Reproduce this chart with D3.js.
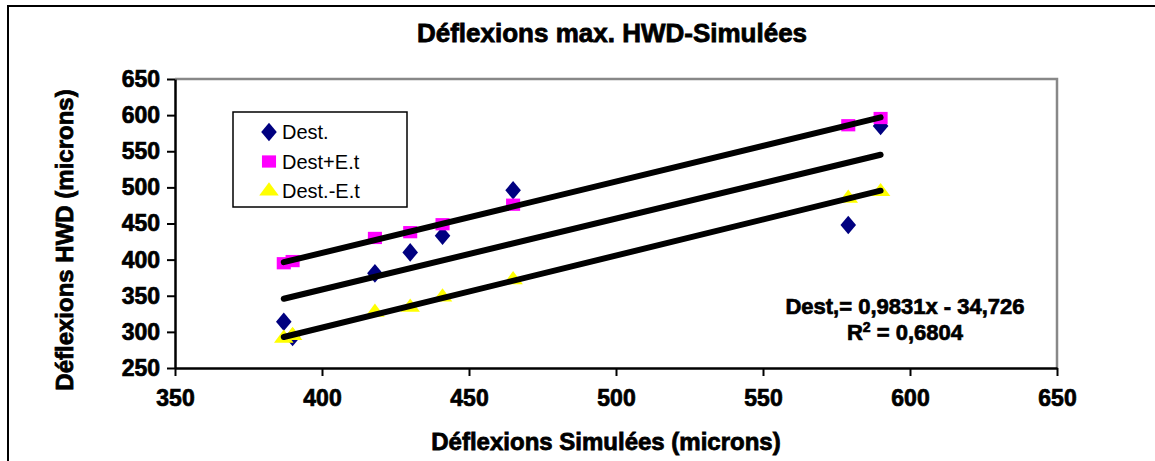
<!DOCTYPE html>
<html>
<head>
<meta charset="utf-8">
<script src="https://cdn.jsdelivr.net/npm/d3@7"></script>
<style>
  body { margin: 0; background: #fff; }
  text { font-family: "Liberation Sans", Arial, sans-serif; }
</style>
</head>
<body>
<script>
	// data
	var xVals = [387, 390, 418, 430, 441, 465, 579, 590];
	var destVals = [314, 293, 381, 410, 433, 496, 448, 585];
	var destPlusVals = [395, 398, 430, 438, 449, 476, 586, 596];
	var destMinusVals = [291, 295, 327, 334, 348, 372, 485, 494];
	var seriesNames = ["Dest.", "Dest+E.t", "Dest.-E.t"];
	var seriesColors = ["#000080", "#ff00ff", "#ffff00"];
	var xTicks = [350, 400, 450, 500, 550, 600, 650];
	var yTicks = [250, 300, 350, 400, 450, 500, 550, 600, 650];

	var svg_w = 1155;
	var svg_h = 461;
	var svg = d3.select("body").append("svg")
	.attr("width", svg_w)
	.attr("height", svg_h);

	// outer frame (only left + top visible)
	svg.append("rect")
	.attr("x", 8).attr("y", 6)
	.attr("width", 1300).attr("height", 600)
	.attr("fill", "none").attr("stroke", "#000").attr("stroke-width", 2);

	var x = d3.scaleLinear().domain([350, 650]).range([175, 1057]);
	var y = d3.scaleLinear().domain([250, 650]).range([368, 79]);

	// plot area border (grey top/right)
	svg.append("path")
	.attr("d", "M" + x(350) + "," + y(650) + "H" + x(650) + "V" + y(250))
	.attr("fill", "none").attr("stroke", "#888").attr("stroke-width", 2.5);

	// axes
	var xAxis = svg.append("g")
	.attr("transform", "translate(0," + y(250) + ")")
	.call(d3.axisBottom(x).tickValues(xTicks).tickSize(8).tickSizeOuter(0));
	var yAxis = svg.append("g")
	.attr("transform", "translate(" + x(350) + ",0)")
	.call(d3.axisLeft(y).tickValues(yTicks).tickSize(8).tickSizeOuter(0));

	[xAxis, yAxis].forEach(function(a) {
		a.select(".domain").attr("stroke", "#000").attr("stroke-width", 2.5);
		a.selectAll(".tick line").attr("stroke", "#000").attr("stroke-width", 2);
		a.selectAll(".tick text")
		.attr("font-family", "Liberation Sans, Arial, sans-serif")
		.attr("font-size", 23).attr("font-weight", "bold")
		.attr("fill", "#000").attr("stroke", "#000").attr("stroke-width", 0.7);
	});
	xAxis.selectAll(".tick text").attr("y", 22);
	yAxis.selectAll(".tick text").attr("x", -15);

	// markers
	var series = [destVals, destPlusVals, destMinusVals];
	var symbols = [d3.symbolDiamond, d3.symbolSquare, d3.symbolTriangle];
	var symSizes = [100, 150, 125];
	var symScale = ["1.45,1", "1.15,1", "1.15,0.9"];

	function marker(g, i, cx, cy) {
		g.append("path")
		.attr("d", d3.symbol().type(symbols[i]).size(symSizes[i])())
		.attr("transform", "translate(" + cx + "," + cy + ") scale(" + symScale[i] + ")")
		.attr("fill", seriesColors[i]);
	}

	var pts = svg.append("g");
	series.forEach(function(vals, i) {
		vals.forEach(function(v, j) {
			marker(pts, i, x(xVals[j]), y(v));
		});
	});

	// linear trend lines (least squares on each series)
	function fit(xs, ys) {
		var mx = d3.mean(xs), my = d3.mean(ys);
		var sxy = d3.sum(xs, function(d, k) { return (d - mx) * (ys[k] - my); });
		var sxx = d3.sum(xs, function(d) { return (d - mx) * (d - mx); });
		var b = sxy / sxx;
		return { slope: b, icpt: my - b * mx };
	}
	var x0 = d3.min(xVals), x1 = d3.max(xVals);
	var line = d3.line().x(function(d) { return x(d[0]); }).y(function(d) { return y(d[1]); });
	series.forEach(function(vals) {
		var f = fit(xVals, vals);
		svg.append("path")
		.attr("d", line([[x0, f.slope * x0 + f.icpt], [x1, f.slope * x1 + f.icpt]]))
		.attr("stroke", "#000").attr("stroke-width", 6).attr("fill", "none")
		.attr("stroke-linecap", "round");
	});

	// legend
	var leg = svg.append("g");
	leg.append("rect")
	.attr("x", 233).attr("y", 112).attr("width", 174).attr("height", 95)
	.attr("fill", "#fff").attr("stroke", "#000").attr("stroke-width", 1.5);
	seriesNames.forEach(function(name, i) {
		var ly = 132 + i * 29.5;
		marker(leg, i, 269, ly);
		leg.append("text")
		.attr("x", 282).attr("y", ly + 7)
		.attr("font-family", "DejaVu Sans, sans-serif")
		.attr("font-size", 20)
		.text(name);
	});

	// equation
	var eq = svg.append("g")
	.attr("font-weight", "bold").attr("font-size", 22)
	.attr("stroke", "#000").attr("stroke-width", 0.7)
	.attr("text-anchor", "middle");
	eq.append("text").attr("x", 905).attr("y", 314).text("Dest,= 0,9831x - 34,726");
	var r2 = eq.append("text").attr("x", 905).attr("y", 340);
	r2.append("tspan").text("R");
	r2.append("tspan").attr("font-size", 14).attr("dy", -8).text("2");
	r2.append("tspan").attr("dy", 8).text(" = 0,6804");

	// titles
	svg.append("text")
	.attr("x", 612).attr("y", 42)
	.attr("text-anchor", "middle")
	.attr("font-size", 26).attr("font-weight", "bold")
	.attr("stroke", "#000").attr("stroke-width", 0.8)
	.text("Déflexions max. HWD-Simulées");

	svg.append("text")
	.attr("x", 606).attr("y", 450)
	.attr("text-anchor", "middle")
	.attr("font-size", 24).attr("font-weight", "bold")
	.attr("stroke", "#000").attr("stroke-width", 0.8)
	.text("Déflexions Simulées (microns)");

	svg.append("text")
	.attr("transform", "translate(73,240) rotate(-90)")
	.attr("text-anchor", "middle")
	.attr("font-size", 24).attr("font-weight", "bold")
	.attr("stroke", "#000").attr("stroke-width", 0.8)
	.text("Déflexions HWD (microns)");
</script>
</body>
</html>
